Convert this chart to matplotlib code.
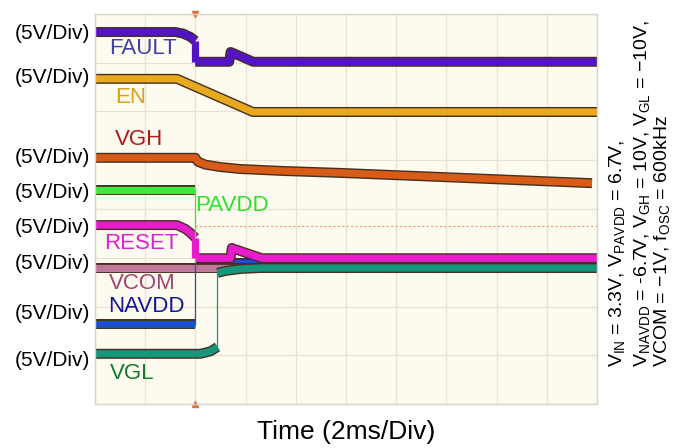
import numpy as np
import matplotlib.pyplot as plt
import matplotlib.patheffects as pe

plt.rcParams['font.family'] = ['Liberation Sans', 'DejaVu Sans']
plt.rcParams['mathtext.fontset'] = 'custom'
plt.rcParams['mathtext.rm'] = 'Liberation Sans'

# time in ms (2ms/Div, 10 div), level in divisions from bottom (8 div)
fault_t = [0, 3.2, 3.5, 3.8, 4.0, 4.0, 5.35, 5.4, 5.5, 6.3, 20]
fault_v = [7.63, 7.63, 7.60, 7.53, 7.45, 7.02, 7.02, 7.22, 7.20, 7.02, 7.02]

en_t = [0, 3.27, 6.29, 20]
en_v = [6.67, 6.67, 5.99, 5.99]

vgh_t = [0, 4.0, 4.1, 4.4, 5.0, 5.8, 7.5, 9.8, 19.8]
vgh_v = [5.05, 5.05, 4.97, 4.91, 4.86, 4.82, 4.78, 4.74, 4.53]

pavdd_t = [0, 4.0, 4.0, 20]
pavdd_v = [4.38, 4.38, 2.90, 2.90]

reset_t = [0, 3.27, 3.6, 3.8, 4.0, 4.0, 5.4, 5.45, 5.55, 6.65, 20]
reset_v = [3.67, 3.67, 3.59, 3.51, 3.41, 2.99, 2.99, 3.20, 3.18, 2.99, 2.99]

vcom_t = [0, 4.0, 20]
vcom_v = [2.79, 2.79, 2.79]

navdd_t = [0, 4.0, 4.0, 20]
navdd_v = [1.64, 1.64, 2.90, 2.90]

vgl_t = [0, 4.2, 4.6, 4.88, 4.88, 5.2, 5.8, 6.6, 20]
vgl_v = [1.03, 1.03, 1.08, 1.17, 2.69, 2.73, 2.77, 2.79, 2.79]

trig_t = 4.0
trig_level = 3.66

names = ['FAULT', 'EN', 'VGH', 'PAVDD', 'RESET', 'VCOM', 'NAVDD', 'VGL']
scale_labels = ['(5V/Div)'] * 8
trace_colors = ['#5214c4', '#e8a820', '#d85c18', '#3fe83f', '#e81ccc', '#c07a98', '#1c50c8', '#17967e']
label_colors = ['#3e3ea8', '#d9a11a', '#b01818', '#2ee02e', '#e020d8', '#a2446e', '#141496', '#137a26']

# layout (divisions) for the name labels and the left scale labels
name_pos = [(1.91, 7.30), (1.43, 6.28), (1.76, 5.42), (5.47, 4.08),
            (1.83, 3.30), (1.90, 2.48), (2.03, 1.99), (1.50, 0.62)]
scale_y = [7.61, 6.69, 5.05, 4.34, 3.63, 2.89, 1.85, 0.90]

fig = plt.figure(figsize=(6.96, 4.48), dpi=100)
ax = fig.add_axes([95 / 696, 1 - 404 / 448, 502 / 696, 390 / 448])
ax.set_facecolor('#fdfaf0')
ax.set_xlim(0, 20)
ax.set_ylim(0, 8)
ax.set_xticks(np.arange(0, 21, 2))
ax.set_yticks(np.arange(0, 9, 1))
ax.tick_params(length=0, labelbottom=False, labelleft=False)
ax.grid(True, color='#e9e2d2', lw=0.9)
for s in ax.spines.values():
    s.set_color('#d6d3cc')
    s.set_linewidth(1.0)

# trigger level
ax.plot([trig_t, 20], [trig_level, trig_level], color='#e59a6a', lw=0.8, ls=(0, (2, 2)))

traces = [(pavdd_t, pavdd_v, 3), (navdd_t, navdd_v, 6), (vcom_t, vcom_v, 5),
          (vgl_t, vgl_v, 7), (reset_t, reset_v, 4),
          (vgh_t, vgh_v, 2), (en_t, en_v, 1), (fault_t, fault_v, 0)]
steps = []
for t, v, i in traces:
    # split into bands at the fast (vertical) edges
    start = 0
    for k in range(len(t)):
        if k == len(t) - 1 or t[k] == t[k + 1]:
            ax.plot(t[start:k + 1], v[start:k + 1], color=trace_colors[i], lw=5.2,
                    solid_capstyle='butt',
                    path_effects=[pe.Stroke(linewidth=7.2, foreground='#45301f'), pe.Normal()])
            if k < len(t) - 1:
                steps.append((t[k:k + 2], v[k:k + 2], i))
            start = k + 1
for t, v, i in steps:
    if i in (0, 4):
        ax.plot(t, v, color=trace_colors[i], lw=5.2, solid_capstyle='butt')
    else:
        ax.plot(t, v, color=trace_colors[i], lw=0.9)

for i, name in enumerate(names):
    ax.text(name_pos[i][0], name_pos[i][1], name, color=label_colors[i],
            fontsize=16, ha='center', va='center')

# trigger markers
ax.plot([trig_t], [8], marker='v', color='#e07040', ms=4, clip_on=False)
ax.plot([trig_t], [0], marker='^', color='#e07040', ms=4, clip_on=False)

for y, lab in zip(scale_y, scale_labels):
    ax.text(-0.2, y, lab, fontsize=15, ha='right', va='center', clip_on=False)

fig.text(0.497, 0.035, 'Time (2ms/Div)', fontsize=19, ha='center', va='center')

side = [r'V$_{\rm IN}$ = 3.3V, V$_{\rm PAVDD}$ = 6.7V,',
        r'V$_{\rm NAVDD}$ = -6.7V, V$_{\rm GH}$ = 10V, V$_{\rm GL}$ = $-$10V,',
        r'VCOM = $-$1V, f$_{\rm OSC}$ = 600kHz']
side_x = [618, 643, 663]
for x, s in zip(side_x, side):
    fig.text(x / 696, 1 - 367 / 448, s, rotation=90, fontsize=14,
             ha='center', va='bottom')

fig.savefig('out.png', dpi=100)
